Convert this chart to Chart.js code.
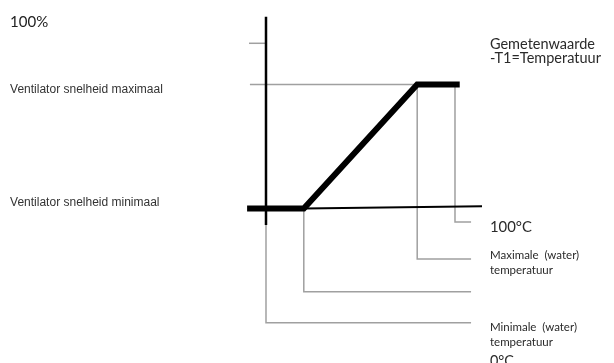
<!DOCTYPE html>
<html>
<head>
<meta charset="utf-8">
<script src="https://cdn.jsdelivr.net/npm/chart.js@4"></script>
<style>
  html, body { margin: 0; padding: 0; background: #fff; }
  #wrap { width: 614px; height: 363px; }
</style>
</head>
<body>
<div id="wrap"><canvas id="graph"></canvas></div>
<script>
// fan speed curve (temperature in degC, speed in % of scale)
const curveTemps = [-10, 20, 80, 102.5];
const curveSpeeds = [0, 0, 75, 75];

// reference temperatures with their leader lines
const markerTemps = [100, 80, 20, 0];
const markerFrom = [75, 75, 0, -10];
const markerLevels = [-8.2, -30.6, -50.4, -69.1];
const leaderEnd = 108.5;

const maxSpeed = 75;
const fullSpeed = 100;

// text labels: [text, temp, speed, font, max width]
const leftLabels = [
    ['100%', -135.4, 110, '15px Lato', 41],
    ['Ventilator snelheid maximaal', -135.4, 70.1, '12px "Liberation Sans"', 157],
    ['Ventilator snelheid minimaal', -135.4, 1.5, '12px "Liberation Sans"', 153]
];
const rightLabels = [
    ['Gemetenwaarde', 118.5, 96.5, '14.5px Lato', 106],
    ['-T1=Temperatuur', 118.5, 88.3, '14.5px Lato', 121],
    ['100°C', 118.5, -14, '15px Lato', 42],
    ['Maximale  (water)', 118.5, -30.7, '11.5px Lato', 96],
    ['temperatuur', 118.5, -39.6, '11.5px Lato', 69],
    ['Minimale  (water)', 118.5, -74, '11.5px Lato', 87],
    ['temperatuur', 118.5, -83, '11.5px Lato', 66],
    ['0°C', 118.5, -95.3, '15px Lato', 24]
];

const pts = (xs, ys) => xs.map((x, i) => ({ x: x, y: ys[i] }));
const black = '#000';
const grey = '#a0a0a0';

function lineSet(data, color, width) {
    return {
        data: data,
        showLine: true,
        borderColor: color,
        borderWidth: width,
        pointRadius: 0,
        borderJoinStyle: 'miter',
        borderCapStyle: 'butt',
        fill: false
    };
}

const datasets = [
    lineSet(pts(curveTemps, curveSpeeds), black, 6),
    lineSet([{ x: 0, y: 116 }, { x: 0, y: -10 }], black, 2.5),
    lineSet([{ x: 20, y: 0 }, { x: 114.3, y: 1.3 }], black, 2),
    lineSet([{ x: -9, y: fullSpeed }, { x: 0, y: fullSpeed }], grey, 1.5),
    lineSet([{ x: -8.5, y: maxSpeed }, { x: 80, y: maxSpeed }], grey, 1.5)
];
markerTemps.forEach(function (t, i) {
    datasets.push(lineSet([
        { x: t, y: markerFrom[i] },
        { x: t, y: markerLevels[i] },
        { x: leaderEnd, y: markerLevels[i] }
    ], grey, 1.5));
});

const textPlugin = {
    id: 'texts',
    afterDraw(chart) {
        const c = chart.ctx;
        const xs = chart.scales.x, ys = chart.scales.y;
        c.save();
        c.textBaseline = 'alphabetic';
        c.textAlign = 'left';
        leftLabels.forEach(function (l, i) {
            c.font = l[3];
            c.fillStyle = i === 0 ? '#222' : '#333';
            c.fillText(l[0], xs.getPixelForValue(l[1]), ys.getPixelForValue(l[2]), l[4]);
        });
        rightLabels.forEach(function (l) {
            c.font = l[3];
            c.fillStyle = '#2a2a2a';
            c.fillText(l[0], xs.getPixelForValue(l[1]), ys.getPixelForValue(l[2]), l[4]);
        });
        c.restore();
    }
};

const chart = new Chart(document.getElementById('graph'), {
    type: 'scatter',
    data: { datasets: datasets },
    options: {
        responsive: true,
        maintainAspectRatio: false,
        animation: false,
        layout: { padding: 0 },
        plugins: { legend: { display: false }, tooltip: { enabled: false } },
        scales: {
            x: { type: 'linear', display: false, min: -140.74, max: 184.13 },
            y: { type: 'linear', display: false, min: -93.5, max: 126.2 }
        }
    },
    plugins: [textPlugin]
});
</script>
</body>
</html>
